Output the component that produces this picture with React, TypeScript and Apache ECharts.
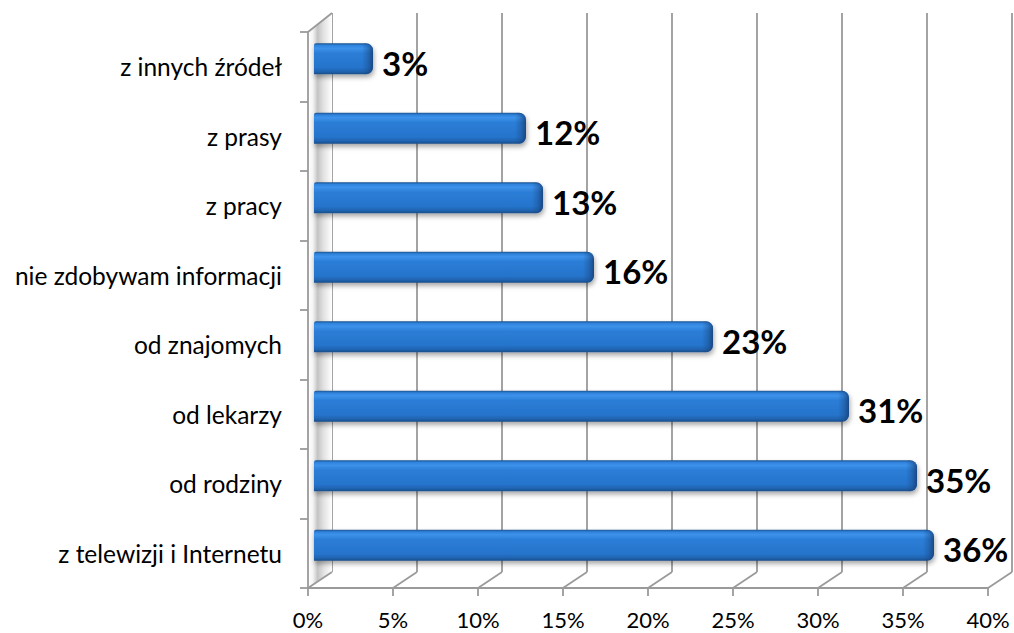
import React, { useEffect, useRef } from "react";
import * as echarts from "echarts";

// ---- data ----
const categories = [
  "z telewizji i Internetu",
  "od rodziny",
  "od lekarzy",
  "od znajomych",
  "nie zdobywam informacji",
  "z pracy",
  "z prasy",
  "z innych źródeł",
];
const values = [36, 35, 31, 23, 16, 13, 12, 3];
const xMin = 0;
const xMax = 40;
const xStep = 5;
const unit = "%";

// ---- layout ----
const W = 1014;
const H = 633;
const FRONT = { left: 308, top: 32, width: 680, height: 556 };
const DX = 24;
const DY = -16;
const FONT = "Lato, 'Noto Sans', sans-serif";
const GRID_COLOR = "#9a9a9a";

function grid(f: number, extraTop = 0) {
  return {
    left: FRONT.left + DX * f,
    top: FRONT.top + DY * f - extraTop,
    width: FRONT.width,
    height: FRONT.height + extraTop,
  };
}

export default function App() {
  const ref = useRef<HTMLDivElement>(null);
  useEffect(() => {
    if (!ref.current) return;
    const chart = echarts.init(ref.current, undefined, { renderer: "svg" });

    const bodyGrad = () =>
      new echarts.graphic.LinearGradient(0, 0, 0, 1, [
        { offset: 0, color: "#1b548f" },
        { offset: 0.07, color: "#2f83dd" },
        { offset: 0.16, color: "#3d92ea" },
        { offset: 0.32, color: "#2b7dd6" },
        { offset: 0.78, color: "#2674cc" },
        { offset: 0.92, color: "#1f62ae" },
        { offset: 1, color: "#194c88" },
      ]);
    const endGrad = () =>
      new echarts.graphic.LinearGradient(0, 0, 1, 0, [
        { offset: 0, color: "rgba(25,70,130,0)" },
        { offset: 0.5, color: "rgba(25,70,130,0.35)" },
        { offset: 1, color: "rgba(20,55,105,0.75)" },
      ]);

    const backGrid = grid(1, 3);
    const option: any = {
      animation: false,
      backgroundColor: "#ffffff",
      grid: [backGrid, grid(0), grid(0.5)],
      xAxis: [
        {
          gridIndex: 0,
          type: "value",
          min: xMin,
          max: xMax,
          interval: xStep,
          axisLine: { show: false },
          axisTick: { show: false },
          axisLabel: { show: false },
          splitLine: { show: true, lineStyle: { color: GRID_COLOR, width: 1.8 } },
        },
        {
          gridIndex: 1,
          type: "value",
          min: xMin,
          max: xMax,
          interval: xStep,
          axisLine: { show: true, lineStyle: { color: GRID_COLOR, width: 1.8 } },
          axisTick: { show: true, length: 8, lineStyle: { color: GRID_COLOR, width: 1.8 } },
          axisLabel: {
            show: true,
            margin: 20,
            formatter: (v: number) => `${v}${unit}`,
            color: "#000",
            fontSize: 22,
            fontFamily: FONT,
          },
          splitLine: { show: false },
        },
        {
          gridIndex: 2,
          type: "value",
          min: xMin,
          max: xMax,
          interval: xStep,
          show: false,
        },
      ],
      yAxis: [
        { gridIndex: 0, type: "category", data: categories, show: false },
        {
          gridIndex: 1,
          type: "category",
          data: categories,
          axisLine: { show: true, lineStyle: { color: GRID_COLOR, width: 1.8 } },
          axisTick: { show: true, length: 8, lineStyle: { color: GRID_COLOR, width: 1.8 } },
          axisLabel: {
            margin: 26,
            color: "#000",
            fontSize: 24.5,
            fontFamily: FONT,
          },
          splitLine: { show: false },
        },
        { gridIndex: 2, type: "category", data: categories, show: false },
      ],
      series: [
        {
          type: "custom",
          xAxisIndex: 2,
          yAxisIndex: 2,
          data: values.map((v, i) => [v, i]),
          z: 5,
          renderItem: (_params: any, api: any) => {
            const v = api.value(0);
            const c = api.value(1);
            const end = api.coord([v, c]);
            const start = api.coord([xMin, c]);
            const h = api.size([0, 1])[1] * 0.445;
            const x0 = start[0] - 6;
            const x1 = end[0] + 2;
            const y0 = end[1] - h / 2;
            return {
              type: "group",
              children: [
                {
                  type: "rect",
                  shape: { x: x0, y: y0, width: x1 - x0, height: h, r: [2, 7, 7, 0] },
                  style: {
                    fill: bodyGrad(),
                    shadowBlur: 5,
                    shadowOffsetX: 1,
                    shadowOffsetY: 3,
                    shadowColor: "rgba(0,0,0,0.35)",
                  },
                },
                {
                  type: "rect",
                  shape: { x: x1 - 11, y: y0, width: 11, height: h, r: [0, 7, 7, 0] },
                  style: { fill: endGrad() },
                },
                {
                  type: "text",
                  x: x1 + 9,
                  y: end[1] + 4,
                  style: {
                    text: `${v}${unit}`,
                    fontSize: 33,
                    fontWeight: "bold",
                    fontFamily: FONT,
                    fill: "#000",
                    align: "left",
                    verticalAlign: "middle",
                  },
                },
              ],
            };
          },
        },
      ],
    };
    chart.setOption(option);

    // 3D decorations (walls/floor), positioned through the axes' scales
    const ticks: number[] = [];
    for (let v = xMin; v <= xMax; v += xStep) ticks.push(v);
    const frontBottom = FRONT.top + FRONT.height;
    const backBottom = FRONT.top + DY + FRONT.height;
    const frontTop = FRONT.top;
    const backTop = backGrid.top;
    const fx0 = chart.convertToPixel({ xAxisIndex: 1 }, xMin) as number;
    const bx0 = chart.convertToPixel({ xAxisIndex: 0 }, xMin) as number;
    const floorLines = ticks.map((v) => ({
      type: "line",
      z: 1,
      shape: {
        x1: chart.convertToPixel({ xAxisIndex: 1 }, v) as number,
        y1: frontBottom,
        x2: chart.convertToPixel({ xAxisIndex: 0 }, v) as number,
        y2: backBottom,
      },
      style: { stroke: GRID_COLOR, lineWidth: 1.8 },
    }));
    chart.setOption({
      graphic: [
        {
          type: "polygon",
          z: 0,
          shape: {
            points: [
              [fx0, frontTop],
              [bx0, backTop],
              [bx0, backBottom],
              [fx0, frontBottom],
            ],
          },
          style: {
            fill: new echarts.graphic.LinearGradient(0, 0, 1, 0, [
              { offset: 0, color: "#ffffff" },
              { offset: 0.2, color: "#f4f4f4" },
              { offset: 0.4, color: "#c4c4c4" },
              { offset: 0.65, color: "#e2e2e2" },
              { offset: 1, color: "#ffffff" },
            ]),
          },
        },
        {
          type: "line",
          z: 1,
          shape: { x1: fx0, y1: frontTop, x2: bx0, y2: backTop },
          style: { stroke: GRID_COLOR, lineWidth: 1.8 },
        },
        ...floorLines,
      ],
    });

    return () => chart.dispose();
  }, []);
  return (
    <div
      ref={ref}
      style={{ position: "fixed", left: 0, top: 0, width: W, height: H, background: "#fff" }}
    />
  );
}
